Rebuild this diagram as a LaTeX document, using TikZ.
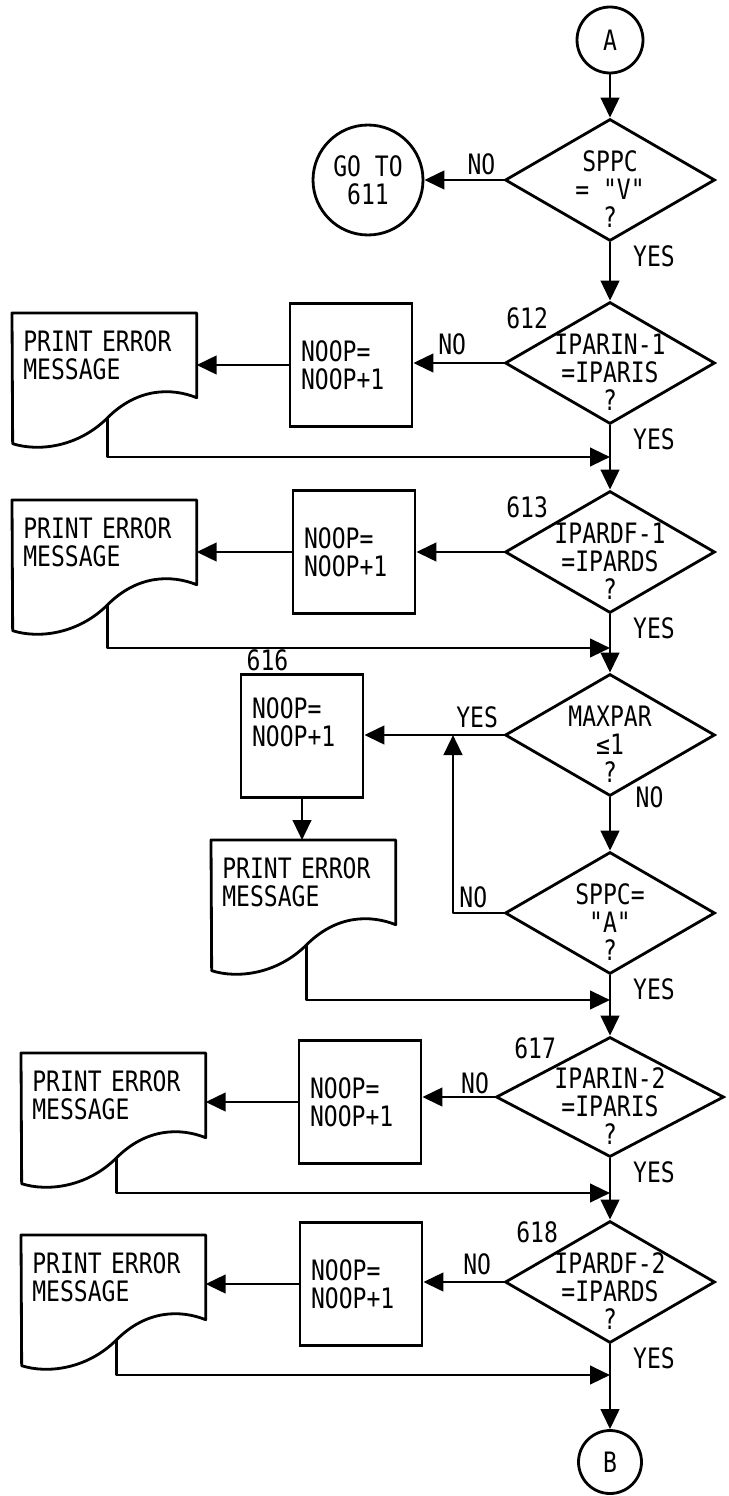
\documentclass[tikz,border=0pt]{standalone}
\usepackage{fontspec}
\setmainfont{DejaVu Sans Mono}[FakeStretch=0.82, Ligatures=TeXOff]
\usepackage{tikz}
\usetikzlibrary{shapes.geometric,arrows.meta,positioning,calc}

% printout outline with wavy bottom, names the point (#1w) on the wave
\newcommand{\docshape}[1]{%
  \draw[line] (#1.north west) -- (#1.north east) -- (#1.south east)
    .. controls +(-25,-10) and +(30,-30) .. ++(-89,20) coordinate (#1w)
    .. controls +(-30,30) and +(25,8) .. ++(-95,26) -- cycle;}

\begin{document}
\begin{tikzpicture}[
    x=0.02cm, y=-0.02cm,
    font=\fontsize{16pt}{16pt}\selectfont,
    line/.style={line width=1.6pt, line join=round},
    arrow/.style={line, -{Triangle[length=0.4cm, width=0.37cm]}},
    connector/.style={circle, draw, line width=1.6pt, inner sep=0pt, align=center},
    decision/.style={diamond, draw, line width=1.6pt, inner sep=0pt,
        minimum width=4.2cm, minimum height=2.44cm},
    dtext/.style={align=center, inner sep=0pt, yshift=-0.18cm},
    process/.style={rectangle, draw, line width=1.6pt, minimum width=2.44cm,
        minimum height=2.46cm, text width=2cm, align=left},
    printout/.style={rectangle, anchor=north west, minimum width=3.68cm,
        minimum height=1.68cm, text width=3.24cm, align=left, inner sep=0pt},
    lbl/.style={inner sep=1pt}
]
\useasboundingbox (0,0) rectangle (729,1496);

\node[connector, minimum size=1.32cm] (A) at (610,40) {A};
\node[decision, label={[dtext]center:SPPC\\= "V"\\?}] (dV) at (610,180) {};
\node[connector, minimum size=2.2cm] (goto) at (368,180) {GO TO\\611};

\node[decision, label={[dtext]center:IPARIN-1\\=IPARIS\\?}] (d612) at (610,363) {};
\node[lbl, below left=0.1cm and 1.2cm of d612.north] (n612) {612};
\node[process] (p612) at (351,365) {NOOP=\\NOOP+1};
\node[printout] (e612) at (12,313) {PRINT ERROR\\MESSAGE};
\coordinate (j612) at (610,457);

\node[decision, label={[dtext]center:IPARDF-1\\=IPARDS\\?}] (d613) at (610,552) {};
\node[lbl, below left=0.1cm and 1.2cm of d613.north] (n613) {613};
\node[process] (p613) at (354,552) {NOOP=\\NOOP+1};
\node[printout] (e613) at (12,500) {PRINT ERROR\\MESSAGE};
\coordinate (j613) at (610,648);

\node[decision, label={[dtext]center:MAXPAR\\≤1\\?}] (dmax) at (610,735) {};
\node[process] (p616) at (302,736) {NOOP=\\NOOP+1\\~};
\node[lbl, above right=0pt and 0.1cm of p616.north west] (n616) {616};
\node[printout] (e616) at (211,840) {PRINT ERROR\\MESSAGE};
\coordinate (jmax) at (453,735);
\node[decision, label={[dtext]center:SPPC=\\"A"\\?}] (dA) at (610,913) {};
\coordinate (j616) at (610,1000);

\node[decision, minimum width=4.56cm, minimum height=2.4cm,
    label={[dtext]center:IPARIN-2\\=IPARIS\\?}] (d617) at (610,1097) {};
\node[lbl, below left=0cm and 1.04cm of d617.north] (n617) {617};
\node[process] (p617) at (360,1102) {NOOP=\\NOOP+1};
\node[printout] (e617) at (21,1053) {PRINT ERROR\\MESSAGE};
\coordinate (j617) at (610,1193);

\node[decision, label={[dtext]center:IPARDF-2\\=IPARDS\\?}] (d618) at (610,1282) {};
\node[lbl, below left=0cm and 1.0cm of d618.north] (n618) {618};
\node[process] (p618) at (361,1284) {NOOP=\\NOOP+1};
\node[printout] (e618) at (21,1235) {PRINT ERROR\\MESSAGE};
\coordinate (j618) at (610,1375);

\node[connector, minimum size=1.26cm] (B) at (610,1462) {B};

\docshape{e612}
\docshape{e613}
\docshape{e616}
\docshape{e617}
\docshape{e618}

\draw[arrow] (A) -- (dV);
\draw[arrow] (dV.west) -- node[lbl, pos=0.28, above=1pt] (noV) {NO} (dV.west -| goto.east);
\draw[arrow] (dV.south) -- node[lbl, at start, anchor=north west, xshift=0.4cm] (yesV) {YES} (d612.north);

\draw[arrow] (d612.west) -- node[lbl, pos=0.57, above=3pt] (no612) {NO} (d612.west -| p612.east);
\draw[arrow] (p612.west) -- (p612.west -| e612.east);
\draw[arrow] (e612w) |- (j612);
\draw[arrow] (d612.south) -- node[lbl, at start, anchor=north west, xshift=0.4cm] (yes612) {YES} (d613.north);

\draw[arrow] (d613.west) -- (d613.west -| p613.east);
\draw[arrow] (p613.west) -- (p613.west -| e613.east);
\draw[arrow] (e613w) |- (j613);
\draw[arrow] (d613.south) -- node[lbl, at start, anchor=north west, xshift=0.4cm] (yes613) {YES} (dmax.north);

\draw[arrow] (dmax.west) -- node[lbl, pos=0.19, above=2pt] (yesmax) {YES} (dmax.west -| p616.east);
\draw[arrow] (p616.south) -- (p616.south |- e616.north);
\draw[arrow] (dmax.south) -- node[lbl, at start, anchor=west, xshift=0.45cm] (nomax) {NO} (dA.north);
\draw[arrow] (dA.west) -| node[lbl, pos=0.3, above=1pt] (noA) {NO} (jmax);
\draw[arrow] (e616w) |- (j616);
\draw[arrow] (dA.south) -- node[lbl, at start, anchor=north west, xshift=0.4cm] (yesA) {YES} (d617.north);

\draw[arrow] (d617.west) -- node[lbl, pos=0.27, above=0pt] (no617) {NO} (d617.west -| p617.east);
\draw[arrow] (p617.west) -- (p617.west -| e617.east);
\draw[arrow] (e617w) |- (j617);
\draw[arrow] (d617.south) -- node[lbl, at start, anchor=north west, xshift=0.4cm] (yes617) {YES} (d618.north);

\draw[arrow] (d618.west) -- node[lbl, pos=0.33, above=2pt] (no618) {NO} (d618.west -| p618.east);
\draw[arrow] (p618.west) -- (p618.west -| e618.east);
\draw[arrow] (e618w) |- (j618);
\draw[arrow] (d618.south) -- node[lbl, at start, anchor=north west, xshift=0.4cm] (yes618) {YES} (B);

\end{tikzpicture}
\end{document}
